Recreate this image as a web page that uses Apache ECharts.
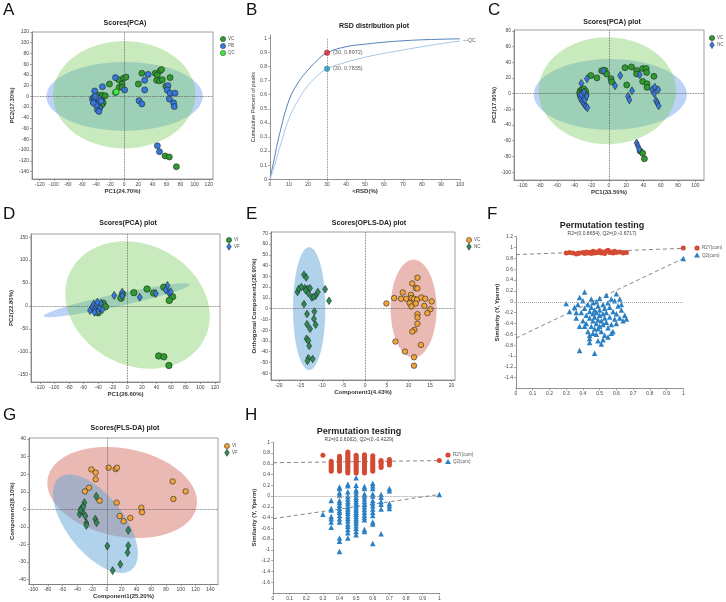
<!DOCTYPE html>
<html>
<head>
<meta charset="utf-8">
<script src="https://cdn.jsdelivr.net/npm/echarts@6/dist/echarts.min.js"></script>
<style>html,body{margin:0;padding:0;background:#fff}#chart{width:726px;height:602px}</style>
</head>
<body>
<div id="chart"></div>
<script>
const FONT = 'Liberation Sans, Arial, Helvetica, sans-serif';

// A - Scores(PCA)
const aXTicks = [-120, -100, -80, -60, -40, -20, 0, 20, 40, 60, 80, 100, 120];
const aYTicks = [-140, -120, -100, -80, -60, -40, -20, 0, 20, 40, 60, 80, 100, 120];
const aVC = [[-21, 23], [-8, 31], [-1, 34], [2.5, 36], [-3, 23], [-7, 17], [-3, 17], [-44, -3], [-40, -2], [-36, 2],
  [-32, -5], [-30, -12], [-34, -16], [-38, -8], [-31, 2], [-35, -10], [-27, 1], [-32, -16], [25, 43], [20, 23], [44, 43],
  [47, 40], [51, 48], [53, 50], [46, 30], [50, 29], [54, 31], [65, 35], [59, 19], [58, -111], [64, -113], [74, -131]];
const aPB = [[-42, 10], [-31, 18], [-12.5, 35], [0.5, 12], [29, 30], [34, 41], [29, 12], [21, -8], [25, -14], [62, 20],
  [61, 12], [65, 6], [72, 6], [64, -5], [70, -12], [71, -19], [47, -92], [50, -103], [-45, -5], [-43, -2], [-41, -9],
  [-39, -13], [-37, -18], [-35, -22], [-38, -25], [-40, -16], [-36, -4], [-33, -9], [-44, -12], [-41, 0], [-36, -28]];
const aQC = [[-12.5, 7], [-11.5, 8.5]];
const aEllVC = [0, 3, 101, 100, 90];
const aEllPB = [0.5, 0, 111, 64, 90];

// B - RSD distribution plot
const bXTicks = [0, 10, 20, 30, 40, 50, 60, 70, 80, 90, 100];
const bYTicks = [0, 0.1, 0.2, 0.3, 0.4, 0.5, 0.6, 0.7, 0.8, 0.9, 1];
const bRSD = [0, 2, 5, 10, 15, 20, 25, 30, 40, 50, 60, 70, 80, 90, 100];
const bUpper = [0, 0.13, 0.32, 0.56, 0.69, 0.775, 0.845, 0.8972, 0.94, 0.958, 0.972, 0.982, 0.989, 0.993, 0.996];
const bLower = [0, 0.08, 0.22, 0.43, 0.565, 0.665, 0.735, 0.7835, 0.83, 0.865, 0.893, 0.917, 0.94, 0.962, 0.98];
const bMarks = [[30, 0.8972], [30, 0.7835]];

// C - Scores(PCA) plot
const cXTicks = [-100, -80, -60, -40, -20, 0, 20, 40, 60, 80, 100];
const cYTicks = [-100, -80, -60, -40, -20, 0, 20, 40, 60, 80];
const cVC = [[-21, 23], [-14, 20], [-8.5, 29], [-4.6, 29.5], [-2.7, 25], [2.3, 19], [3, 15], [18.5, 33], [26, 34],
  [32, 29.5], [32, 25], [39, 32], [43, 32], [43.6, 27], [39, 15.5], [44, 12.5], [44, 8], [52, 22], [20.5, 11],
  [-33, 4], [-31, 5], [-29, 6], [-27, 3], [-30, 0], [-33, -3], [-28, -5], [-31, -8], [-27, -1], [-34, 1],
  [36, -73], [39, -76], [41, -83]];
const cNC = [[-6.6, 29], [-25.5, 19], [-32, 13], [7, 10], [13, 23], [35.5, 24], [26.6, 3.6], [22, -3.6], [23.6, -8],
  [50, 5], [53, 8], [57, 5], [52.5, 0], [54.4, -9], [56, -12], [57.5, -15.5], [32, -63], [33.6, -67], [35, -71],
  [-34, -2], [-33, -6], [-31, -10], [-29, -13], [-27, -16], [-25, -18], [-30, -4], [-28, -8], [-32, -1], [-26, -3], [-29, 2]];
const cEllVC = [-2, 3.7, 79.5, 68, 90];
const cEllNC = [1.5, -1, 88.5, 45, 90];

// D - Scores(PCA) plot
const dXTicks = [-120, -100, -80, -60, -40, -20, 0, 20, 40, 60, 80, 100, 120];
const dYTicks = [-150, -100, -50, 0, 50, 100, 150];
const dVI = [[-33, 6], [-43, -12], [-47, -5], [-40, -15], [-30, -2], [-8.7, 17], [-6.4, 26], [9, 29], [27, 37], [36, 28],
  [50, 41], [62, 20], [57.5, 12], [43, -109], [50, -111], [57, -130]];
const dVF = [[-18, 23], [-7, 30], [-7, 22], [17, 19], [39, 27], [55, 44.6], [52.5, 35], [57, 29], [59.4, 31],
  [-51, -10], [-48, -2], [-46, 4], [-44, -6], [-42, 2], [-40, -12], [-38, -4], [-36, 6], [-34, -8], [-45, -14], [-41, 8]];
const dEllVI = [14, 2, 99, 139, 100];
const dEllVF = [-14.6, 12.4, 100, 37, 22];

// E - Scores(OPLS-DA) plot
const eXTicks = [-20, -15, -10, -5, 0, 5, 10, 15, 20];
const eYTicks = [-60, -50, -40, -30, -20, -10, 0, 10, 20, 30, 40, 50, 60, 70];
const eVC = [[4.9, 4.8], [6.7, 9.8], [8.3, 9.2], [8.7, 15], [9.5, 9.2], [10.6, 12.9], [10.7, 9.8], [11.3, 9.2], [11.7, 19],
  [10.9, 23.4], [12, 8.5], [11.7, 4.8], [10.3, 5.1], [10.7, 2], [13, 10.4], [13.9, 9.2], [15.4, 6.7], [12.1, 28.7],
  [12.1, 18.8], [13.7, 2.6], [15.1, -0.5], [14.4, -4.2], [12.1, -5.1], [12.1, -8.2], [12.1, -14], [11.4, -19.7],
  [10.9, -21.3], [12.9, -33.7], [7, -30.6], [9.2, -39.9], [11.3, -45.2], [11.3, -53]];
const eNC = [[-15.7, 15.4], [-15.4, 18.5], [-14.2, 31.5], [-13.7, 29], [-14, 19], [-13.4, 18.5], [-12.8, 19], [-13.2, 14.4],
  [-12.4, 10.4], [-11.5, 12], [-11, 15.4], [-9.3, 18], [-8.4, 7.3], [-14.2, 4.2], [-13.5, -5], [-11.8, -2.6], [-11.9, -9.5],
  [-11.5, -15], [-13.5, -14.4], [-12.8, -18.8], [-13.6, -28], [-13.2, -29.7], [-13, -34.6], [-12.2, -46.7], [-13.2, -46],
  [-13.4, -48.6], [-12, 11], [-13.8, 17], [-14.8, 20]];
const eEllNC = [-13, 0, 3.75, 57, 90];
const eEllVC = [11.2, 0, 5.33, 45.5, 90];

// F - Permutation testing
const fXTicks = [0, 0.1, 0.2, 0.3, 0.4, 0.5, 0.6, 0.7, 0.8, 0.9, 1];
const fYTicks = [-1.4, -1.2, -1, -0.8, -0.6, -0.4, -0.2, 0, 0.2, 0.4, 0.6, 0.8, 1, 1.2];
const fR2 = [[0.30, 0.90], [0.32, 0.91], [0.34, 0.90], [0.36, 0.88], [0.37, 0.89], [0.38, 0.90], [0.40, 0.91], [0.41, 0.89],
  [0.42, 0.92], [0.43, 0.90], [0.44, 0.91], [0.45, 0.89], [0.46, 0.93], [0.47, 0.90], [0.48, 0.92], [0.49, 0.91],
  [0.50, 0.94], [0.51, 0.90], [0.52, 0.92], [0.53, 0.89], [0.54, 0.93], [0.55, 0.95], [0.56, 0.91], [0.57, 0.92],
  [0.58, 0.90], [0.59, 0.93], [0.60, 0.91], [0.62, 0.92], [0.64, 0.90], [0.66, 0.91], [1, 0.99]];
const fQ2 = [[0.30, -0.03], [0.32, -0.18], [0.35, -0.10], [0.36, -0.30], [0.37, -0.05], [0.38, -0.45], [0.38, 0.08],
  [0.39, -0.20], [0.40, -0.35], [0.41, 0.18], [0.40, 0.02], [0.41, -0.12], [0.42, -0.25], [0.42, -0.40], [0.43, -0.05],
  [0.43, -0.55], [0.44, -0.18], [0.44, -0.30], [0.44, -0.62], [0.44, -0.68], [0.45, 0.05], [0.45, -0.10], [0.45, -0.45],
  [0.46, -0.22], [0.46, -0.35], [0.46, -0.02], [0.47, -0.50], [0.47, -0.15], [0.47, -0.28], [0.47, -0.95], [0.48, 0.00],
  [0.48, -0.40], [0.48, -0.60], [0.48, -0.20], [0.49, -0.08], [0.49, -0.33], [0.49, -0.72], [0.50, -0.25], [0.50, -0.45],
  [0.50, 0.06], [0.50, -0.15], [0.51, -0.55], [0.51, -0.35], [0.51, -0.78], [0.52, -0.05], [0.52, -0.22], [0.52, -0.42],
  [0.53, -0.30], [0.53, -0.12], [0.53, -0.62], [0.54, 0.12], [0.54, -0.38], [0.54, -0.20], [0.55, -0.48], [0.55, -0.02],
  [0.55, -0.65], [0.56, -0.28], [0.56, -0.10], [0.57, -0.42], [0.57, 0.05], [0.58, -0.18], [0.58, -0.55], [0.59, -0.32],
  [0.59, 0.02], [0.60, 0.15], [0.60, -0.22], [0.60, -0.40], [0.61, -0.08], [0.62, -0.30], [0.62, 0.05], [0.63, -0.15],
  [0.64, -0.35], [0.65, -0.25], [0.66, -0.32], [0.38, -0.90], [0.44, -0.75], [0.52, -0.70], [0.57, -0.58], [0.49, -0.50],
  [0.46, -0.58], [0.36, -0.20], [0.41, -0.45], [0.63, -0.05], [1, 0.80]];
const fR2Line = [[0, 0.87], [1, 0.985]];
const fQ2Line = [[0, -0.67], [1, 0.8]];

// G - Scores(PLS-DA) plot
const gXTicks = [-100, -80, -60, -40, -20, 0, 20, 40, 60, 80, 100, 120, 140];
const gYTicks = [-40, -30, -20, -10, 0, 10, 20, 30, 40];
const gVI = [[-21, 22.7], [-15.2, 20.9], [-15.2, 17.1], [2.4, 23.7], [11.8, 22.9], [13.7, 23.7], [-24.2, 12.3], [-29.7, 10.2],
  [-9.8, 4.9], [13.2, 3.8], [17.3, -3.8], [22.7, -6.8], [31.7, -4.9], [46.6, 0.9], [47.5, -1.7], [89, 15.9], [90, 5.9], [106.6, 10.2]];
const gVF = [[-30.5, 3.8], [-14.3, 7.4], [-34.6, 0.4], [-33.3, -1.1], [-36.9, -2.7], [-35.5, -0.5], [-29.2, -3.8], [-27.8, -7.8],
  [-27.8, -9.1], [-15.6, -5.7], [-13.9, -7.6], [-32, 1.5], [29, -11.9], [0.6, -20.9], [29, -20.7], [28, -24.6], [18.2, -31.3], [7.8, -34.9]];
const gEllVI = [20.7, 9.6, 101.3, 25.9, 102];
const gEllVF = [-15.5, -8.2, 57.5, 28, 127.5];

// H - Permutation testing
const hXTicks = [0, 0.1, 0.2, 0.3, 0.4, 0.5, 0.6, 0.7, 0.8, 0.9, 1];
const hYTicks = [-1.6, -1.4, -1.2, -1, -0.8, -0.6, -0.4, -0.2, 0, 0.2, 0.4, 0.6, 0.8, 1];
const hR2Cols = [
  [0.3, [0.76]],
  [0.35, [0.46, 0.49, 0.52, 0.55, 0.58, 0.61, 0.65]],
  [0.4, [0.46, 0.49, 0.52, 0.55, 0.58, 0.62, 0.65, 0.68, 0.71, 0.74]],
  [0.45, [0.43, 0.46, 0.49, 0.52, 0.55, 0.58, 0.61, 0.64, 0.67, 0.70, 0.73, 0.76, 0.79, 0.82]],
  [0.5, [0.43, 0.46, 0.49, 0.52, 0.55, 0.58, 0.61, 0.64, 0.67, 0.70, 0.73, 0.76]],
  [0.55, [0.43, 0.46, 0.49, 0.52, 0.55, 0.58, 0.61, 0.64, 0.67, 0.71, 0.74, 0.77]],
  [0.6, [0.46, 0.49, 0.52, 0.55, 0.58, 0.61, 0.64, 0.67, 0.71, 0.75]],
  [0.65, [0.53, 0.56, 0.6, 0.63, 0.66]],
  [0.7, [0.58, 0.62, 0.65, 0.68]],
  [1, [0.66]]
];
const hQ2Cols = [
  [0.3, [-0.34]],
  [0.35, [-0.08, -0.23, -0.26, -0.38, -0.42, -0.48, -0.58]],
  [0.4, [0.17, 0.14, 0.06, 0.02, -0.08, -0.12, -0.17, -0.22, -0.27, -0.3, -0.36, -0.42, -0.48, -0.78, -0.84, -1.03]],
  [0.45, [0.22, 0.19, 0.08, 0, -0.05, -0.1, -0.14, -0.2, -0.24, -0.28, -0.32, -0.37, -0.41, -0.46, -0.52, -0.56, -0.62, -0.68, -0.78]],
  [0.5, [0.34, 0.2, 0.12, 0.08, 0.03, -0.02, -0.06, -0.1, -0.14, -0.18, -0.22, -0.26, -0.3, -0.34, -0.38, -0.42, -0.46, -0.5, -0.55, -0.6, -0.66, -0.72]],
  [0.55, [0.18, 0.14, 0.04, 0, -0.05, -0.1, -0.15, -0.2, -0.25, -0.3, -0.35, -0.4, -0.44, -0.62, -0.66]],
  [0.6, [0.24, 0.19, 0.14, 0.04, 0, -0.08, -0.13, -0.18, -0.24, -0.3, -0.36, -0.48, -0.52, -0.88]],
  [0.65, [0.03, -0.02, -0.1, -0.15, -0.24, -0.7]],
  [0.7, [0.14, 0.1, -0.14, -0.18, -0.23]],
  [1, [0.03]]
];
const hR2Line = [[0, 0.62], [1, 0.66]];
const hQ2Line = [[0, -0.42], [1, 0.03]];

// colours
const GREEN_DARK = '#2f9a2f', BLUE = '#3677e0', GREEN_QC = '#3cf03c';
const ORANGE = '#f3a23d', SEA = '#2e8b57';
const RED = '#d44a33', TRI_BLUE = '#2b80c3';
const ELL_GREEN = 'rgba(110,200,80,0.38)', ELL_BLUE = 'rgba(80,140,235,0.38)';
const ELL_PINK = 'rgba(215,115,103,0.5)', ELL_LBLUE = 'rgba(97,165,213,0.5)';

const cols = (list) => {
  const out = [];
  list.forEach(c => c[1].forEach(v => out.push([c[0], v])));
  return out;
};

function ellipse(params, api) {
  const cx = api.value(0), cy = api.value(1), rx = api.value(2), ry = api.value(3);
  const psi = api.value(4) * Math.PI / 180;
  const pts = [];
  for (let i = 0; i < 120; i++) {
    const t = i / 120 * Math.PI * 2;
    pts.push(api.coord([cx + rx * Math.cos(t), cy + ry * Math.cos(t + psi)]));
  }
  return {type: 'polygon', shape: {points: pts}, style: {fill: api.visual('color')}};
}

const grids = [
  {left: 32, top: 32, width: 181, height: 147, show: true},       // A
  {left: 270, top: 35, width: 190, height: 144.3},                 // B
  {left: 514, top: 30, width: 190, height: 150, show: true},       // C
  {left: 31, top: 234, width: 189, height: 148, show: true},       // D
  {left: 271, top: 232, width: 184, height: 148, show: true},      // E
  {left: 516, top: 236.7, width: 167.3, height: 151.8},            // F
  {left: 29, top: 438, width: 189, height: 146.5, show: true},     // G
  {left: 273, top: 442.3, width: 166.3, height: 150.6}             // H
].map(g => Object.assign({borderColor: '#888', borderWidth: 0.8, backgroundColor: 'transparent'}, g));

function axis(type, gi, min, max, ticks, name, gap, extra) {
  return Object.assign({
    type: 'value', gridIndex: gi, min: min, max: max,
    axisLine: {show: true, onZero: false, lineStyle: {color: '#777', width: 0.8}},
    axisTick: {show: true, length: 2, customValues: ticks, lineStyle: {color: '#777', width: 0.6}},
    axisLabel: {customValues: ticks, fontSize: 5, color: '#444', margin: 3, fontFamily: FONT},
    splitLine: {show: false},
    name: name, nameLocation: 'middle', nameGap: gap,
    nameTextStyle: {fontSize: 6, fontWeight: 'bold', color: '#333', fontFamily: FONT}
  }, extra || {});
}

const xAxes = [
  axis('x', 0, -131, 126, aXTicks, 'PC1(24.70%)', 8),
  axis('x', 1, 0, 100, bXTicks, '<RSD(%)', 8),
  axis('x', 2, -110, 110, cXTicks, 'PC1(33.50%)', 8),
  axis('x', 3, -132, 127, dXTicks, 'PC1(26.60%)', 8),
  axis('x', 4, -21.85, 20.8, eXTicks, 'Component1(4.43%)', 8),
  axis('x', 5, 0, 1, fXTicks, '', 8),
  axis('x', 6, -105.4, 150.4, gXTicks, 'Component1(25.20%)', 9),
  axis('x', 7, 0, 1, hXTicks, '', 8)
];
const yAxes = [
  axis('y', 0, -154, 120, aYTicks, 'PC2(17.30%)', 15),
  axis('y', 1, 0, 1.023, bYTicks, 'Cumulative Percent of peaks', 12, {nameTextStyle: {fontSize: 5.5, color: '#333', fontFamily: FONT}}),
  axis('y', 2, -110, 81, cYTicks, 'PC2(17.90%)', 15),
  axis('y', 3, -166, 157, dYTicks, 'PC2(22.80%)', 15),
  axis('y', 4, -66.3, 71.2, eYTicks, 'Orthogonal Component1(28.90%)', 12),
  axis('y', 5, -1.6, 1.2, fYTicks, 'Similarity (Y, Yperm)', 15),
  axis('y', 6, -42.8, 40.6, gYTicks, 'Component2(8.10%)', 13),
  axis('y', 7, -1.8, 1, hYTicks, 'Similarity (Y, Yperm)', 15)
];

const zeroLines = {
  silent: true, symbol: 'none', label: {show: false},
  lineStyle: {type: 'dotted', color: '#555', width: 0.8},
  data: [{xAxis: 0}, {yAxis: 0}]
};

function ell(gi, params, color) {
  return {type: 'custom', xAxisIndex: gi, yAxisIndex: gi, renderItem: ellipse, data: [params],
    itemStyle: {color: color}, silent: true, z: 1};
}
function scat(gi, data, symbol, size, color, border, extra) {
  return Object.assign({
    type: 'scatter', xAxisIndex: gi, yAxisIndex: gi, data: data, symbol: symbol, symbolSize: size,
    itemStyle: {color: color, borderColor: border ? '#1d2a1d' : color, borderWidth: border ? 0.6 : 0, opacity: 1},
    silent: true, z: 3
  }, extra || {});
}
function dashLine(gi, data) {
  return {type: 'line', xAxisIndex: gi, yAxisIndex: gi, data: data, showSymbol: false, silent: true, z: 2,
    lineStyle: {color: '#666', width: 0.8, type: [4, 3]}};
}

const series = [
  // A
  ell(0, aEllPB, ELL_BLUE), ell(0, aEllVC, ELL_GREEN),
  scat(0, aVC, 'circle', 6, GREEN_DARK, true, {markLine: zeroLines}),
  scat(0, aPB, 'circle', 6, BLUE, true),
  scat(0, aQC, 'circle', 6, GREEN_QC, true),
  // B
  {type: 'line', xAxisIndex: 1, yAxisIndex: 1, data: bRSD.map((x, i) => [x, bUpper[i]]), smooth: 0.4, showSymbol: false,
    lineStyle: {color: '#5583bd', width: 1}, silent: true,
    markLine: {silent: true, symbol: 'none', label: {show: false}, lineStyle: {type: 'dotted', color: '#666', width: 0.8},
      data: [[{coord: [30, 0]}, {coord: [30, 1]}]]}},
  {type: 'line', xAxisIndex: 1, yAxisIndex: 1, data: bRSD.map((x, i) => [x, bLower[i]]), smooth: 0.4, showSymbol: false,
    lineStyle: {color: '#a6c6e6', width: 1}, silent: true,
    endLabel: {show: true, formatter: '\u2014QC', fontSize: 5, color: '#555', distance: 3, fontFamily: FONT}},
  {type: 'scatter', xAxisIndex: 1, yAxisIndex: 1, symbol: 'circle', symbolSize: 5.5, silent: true, z: 4,
    data: [{value: bMarks[0], itemStyle: {color: '#e8141c', borderColor: '#a00', borderWidth: 0.5}},
      {value: bMarks[1], itemStyle: {color: '#1aa1c6', borderColor: '#0a6a88', borderWidth: 0.5}}],
    label: {show: true, position: 'right', distance: 3, fontSize: 5.5, color: '#333', fontFamily: FONT,
      formatter: p => '(' + p.value[0] + ', ' + p.value[1] + ')'}},
  // C
  ell(2, cEllNC, ELL_BLUE), ell(2, cEllVC, ELL_GREEN),
  scat(2, cVC, 'circle', 6, GREEN_DARK, true, {markLine: zeroLines}),
  scat(2, cNC, 'diamond', [5, 8], BLUE, true),
  // D
  ell(3, dEllVF, ELL_BLUE), ell(3, dEllVI, ELL_GREEN),
  scat(3, dVI, 'circle', 6.5, GREEN_DARK, true, {markLine: zeroLines}),
  scat(3, dVF, 'diamond', [5, 8], BLUE, true),
  // E
  ell(4, eEllNC, ELL_LBLUE), ell(4, eEllVC, ELL_PINK),
  scat(4, eVC, 'circle', 5.5, ORANGE, true, {markLine: zeroLines}),
  scat(4, eNC, 'diamond', [5, 7.5], SEA, true),
  // F
  dashLine(5, fR2Line), dashLine(5, fQ2Line),
  scat(5, fR2, 'circle', 5, RED, false, {markLine: {silent: true, symbol: 'none', label: {show: false},
    lineStyle: {type: 'dotted', color: '#aaa', width: 1}, data: [{yAxis: 0}]}}),
  scat(5, fQ2, 'triangle', 5.5, TRI_BLUE, false),
  // G
  ell(6, gEllVI, ELL_PINK), ell(6, gEllVF, ELL_LBLUE),
  scat(6, gVI, 'circle', 5.5, ORANGE, true, {markLine: zeroLines}),
  scat(6, gVF, 'diamond', [5, 8], SEA, true),
  // H
  dashLine(7, hR2Line), dashLine(7, hQ2Line),
  scat(7, cols(hR2Cols), 'circle', 5, RED, false, {markLine: {silent: true, symbol: 'none', label: {show: false},
    lineStyle: {type: 'dotted', color: '#888', width: 0.8}, data: [{yAxis: 0}]}}),
  scat(7, cols(hQ2Cols), 'triangle', 5.5, TRI_BLUE, false)
];

// titles, panel letters and legends as graphic elements
function txt(x, y, text, size, opts) {
  return Object.assign({type: 'text', x: x, y: y, silent: true, z: 10,
    style: Object.assign({text: text, fontSize: size, fontFamily: FONT, fill: '#222', align: 'center', verticalAlign: 'middle'},
      (opts || {}))}, {});
}
function marker(shape, x, y, color, border) {
  const style = {fill: color, stroke: border ? '#1d2a1d' : color, lineWidth: border ? 0.5 : 0};
  if (shape === 'circle') return {type: 'circle', shape: {cx: x, cy: y, r: 2.6}, style: style, silent: true, z: 10};
  if (shape === 'diamond') return {type: 'polygon', shape: {points: [[x, y - 3.6], [x + 2.3, y], [x, y + 3.6], [x - 2.3, y]]}, style: style, silent: true, z: 10};
  return {type: 'polygon', shape: {points: [[x, y - 2.8], [x + 3, y + 2.2], [x - 3, y + 2.2]]}, style: style, silent: true, z: 10};
}
function legend(x, y, step, items, size) {
  const out = [];
  items.forEach((it, i) => {
    out.push(marker(it[1], x, y + i * step, it[2], it[3]));
    out.push(txt(x + 5, y + i * step, it[0], size || 4.5, {align: 'left', fill: '#555'}));
  });
  return out;
}

const letters = [['A', 3, 10], ['B', 246, 10], ['C', 488, 10], ['D', 3, 214], ['E', 246, 214], ['F', 487, 214], ['G', 3, 415], ['H', 245, 415]];
const graphics = [];
letters.forEach(l => graphics.push(txt(l[1], l[2], l[0], 17, {align: 'left', fill: '#111'})));
graphics.push(txt(125, 23, 'Scores(PCA)', 7, {fontWeight: 'bold'}));
graphics.push(txt(374, 26, 'RSD distribution plot', 7, {fontWeight: 'bold'}));
graphics.push(txt(612, 22, 'Scores(PCA) plot', 7, {fontWeight: 'bold'}));
graphics.push(txt(128, 223, 'Scores(PCA) plot', 7, {fontWeight: 'bold'}));
graphics.push(txt(369, 223, 'Scores(OPLS-DA) plot', 7, {fontWeight: 'bold'}));
graphics.push(txt(602, 226, 'Permutation testing', 9, {fontWeight: 'bold'}));
graphics.push(txt(602, 233.5, 'R2=(0,0.8654), Q2=(0,-0.6717)', 5, {fill: '#444'}));
graphics.push(txt(125, 428, 'Scores(PLS-DA) plot', 7, {fontWeight: 'bold'}));
graphics.push(txt(359, 432, 'Permutation testing', 9, {fontWeight: 'bold'}));
graphics.push(txt(359, 440, 'R2=(0,0.6062), Q2=(0,-0.4229)', 5, {fill: '#444'}));

graphics.push(...legend(223, 39, 7, [['VC', 'circle', GREEN_DARK, true], ['PB', 'circle', BLUE, true], ['QC', 'circle', GREEN_QC, true]]));
graphics.push(...legend(712, 38, 7, [['VC', 'circle', GREEN_DARK, true], ['NC', 'diamond', BLUE, true]]));
graphics.push(...legend(229, 240, 6.7, [['VI', 'circle', GREEN_DARK, true], ['VF', 'diamond', BLUE, true]]));
graphics.push(...legend(469, 240, 6.7, [['VC', 'circle', ORANGE, true], ['NC', 'diamond', SEA, true]]));
graphics.push(...legend(697, 248, 7.3, [['R2Y(cum)', 'circle', RED, false], ['Q2(cum)', 'triangle', TRI_BLUE, false]]));
graphics.push(...legend(227, 446, 6.7, [['VI', 'circle', ORANGE, true], ['VF', 'diamond', SEA, true]]));
graphics.push(...legend(448, 455, 6.7, [['R2Y(cum)', 'circle', RED, false], ['Q2(cum)', 'triangle', TRI_BLUE, false]]));

const chart = echarts.init(document.getElementById('chart'), null, {renderer: 'canvas'});
chart.setOption({
  animation: false,
  backgroundColor: '#fff',
  textStyle: {fontFamily: FONT},
  grid: grids,
  xAxis: xAxes,
  yAxis: yAxes,
  series: series,
  graphic: graphics
});
</script>
</body>
</html>
